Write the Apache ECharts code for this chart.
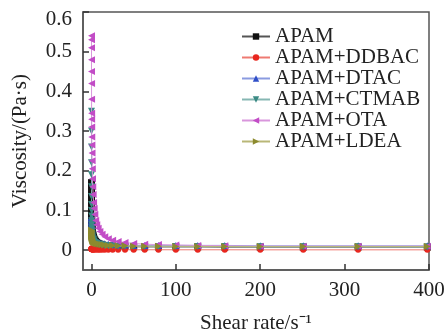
<!DOCTYPE html>
<html>
<head>
<meta charset="utf-8">
<script src="https://cdn.jsdelivr.net/npm/echarts@6/dist/echarts.min.js"></script>
<style>
  html, body { margin: 0; padding: 0; background: #fff; }
  #main { width: 446px; height: 330px; }
</style>
</head>
<body>
<div id="main"></div>
<script>
// shear rate, s^-1 (log ramp)
const shearRate = [0.04, 0.05, 0.063, 0.079, 0.1, 0.126, 0.158, 0.2, 0.251, 0.316, 0.398, 0.501, 0.631, 0.794,
    1, 1.26, 1.58, 2, 2.51, 3.16, 3.98, 5.01, 6.31, 7.94,
    10, 12.6, 15.8, 20, 25.1, 31.6, 39.8, 50.1, 63.1, 79.4,
    100, 126, 158, 200, 251, 316, 398];

const seriesNames = ['APAM', 'APAM+DDBAC', 'APAM+DTAC', 'APAM+CTMAB', 'APAM+OTA', 'APAM+LDEA'];

// viscosity, Pa·s
const apam = [0.17, 0.16, 0.15, 0.14, 0.13, 0.12, 0.11, 0.1, 0.092, 0.084,
    0.076, 0.069, 0.062, 0.056, 0.05, 0.045, 0.04, 0.036, 0.032, 0.028,
    0.025, 0.022, 0.019, 0.017, 0.015, 0.013, 0.012, 0.011, 0.01, 0.009,
    0.009, 0.0085, 0.008, 0.008, 0.008, 0.008, 0.0075, 0.0075, 0.0075, 0.0075, 0.0075];
const ddbac = [0.004, 0.004, 0.0035, 0.0035, 0.003, 0.003, 0.003, 0.0025, 0.0025, 0.0025,
    0.002, 0.002, 0.002, 0.002, 0.002, 0.0018, 0.0018, 0.0016, 0.0016, 0.0015,
    0.0015, 0.0014, 0.0014, 0.0013, 0.0013, 0.0012, 0.0012, 0.0011, 0.0011, 0.001,
    0.001, 0.001, 0.001, 0.001, 0.0009, 0.0009, 0.0009, 0.0008, 0.0008, 0.0008, 0.0008];
const dtac = [0.085, 0.082, 0.079, 0.076, 0.073, 0.07, 0.066, 0.062, 0.058, 0.055,
    0.052, 0.049, 0.046, 0.043, 0.04, 0.037, 0.034, 0.031, 0.029, 0.027,
    0.025, 0.023, 0.021, 0.019, 0.018, 0.017, 0.016, 0.015, 0.014, 0.013,
    0.013, 0.012, 0.012, 0.012, 0.012, 0.012, 0.012, 0.011, 0.011, 0.011, 0.011];
const ctmab = [0.35, 0.3, 0.26, 0.22, 0.19, 0.16, 0.135, 0.115, 0.1, 0.086,
    0.074, 0.064, 0.056, 0.049, 0.043, 0.038, 0.033, 0.029, 0.026, 0.023,
    0.02, 0.018, 0.016, 0.015, 0.014, 0.013, 0.012, 0.011, 0.011, 0.01,
    0.01, 0.01, 0.0095, 0.009, 0.009, 0.009, 0.009, 0.0085, 0.0085, 0.0085, 0.008];
const ota = [0.54, 0.53, 0.51, 0.48, 0.45, 0.42, 0.38, 0.345, 0.33, 0.31,
    0.285, 0.265, 0.245, 0.225, 0.205, 0.18, 0.16, 0.14, 0.12, 0.105,
    0.09, 0.075, 0.064, 0.055, 0.047, 0.04, 0.034, 0.029, 0.025, 0.022,
    0.019, 0.017, 0.015, 0.014, 0.013, 0.012, 0.011, 0.01, 0.01, 0.01, 0.01];
const ldea = [0.05, 0.049, 0.048, 0.047, 0.046, 0.045, 0.044, 0.042, 0.04, 0.038,
    0.036, 0.034, 0.032, 0.03, 0.028, 0.026, 0.024, 0.022, 0.021, 0.02,
    0.019, 0.018, 0.017, 0.016, 0.015, 0.014, 0.013, 0.012, 0.012, 0.011,
    0.011, 0.01, 0.01, 0.01, 0.0095, 0.0095, 0.009, 0.009, 0.009, 0.009, 0.009];

const values = [apam, ddbac, dtac, ctmab, ota, ldea];
const markerColors = ['#111111', '#e8271f', '#2f4fc8', '#3a8a84', '#c24cc6', '#8c8a2e'];
const lineColors = ['#555555', '#ee7a72', '#8a9be0', '#86b7b3', '#d996dc', '#b9b777'];
const symbols = ['rect', 'circle', 'triangle', 'triangle', 'triangle', 'triangle'];
const rotations = [0, 0, 0, 180, 90, -90];

const serif = 'Liberation Serif, Times New Roman, serif';

const chart = echarts.init(document.getElementById('main'), null, { renderer: 'canvas' });

const series = seriesNames.map((name, i) => ({
    name,
    type: 'line',
    data: shearRate.map((x, j) => [x, values[i][j]]),
    symbol: symbols[i],
    symbolRotate: rotations[i],
    symbolSize: i === 1 ? 6 : 7,
    showAllSymbol: true,
    itemStyle: { color: markerColors[i] },
    lineStyle: { color: lineColors[i], width: 1 },
    z: 2 + i
}));

chart.setOption({
    animation: false,
    textStyle: { fontFamily: serif },
    grid: {
        left: 83, right: 17, top: 12, bottom: 60,
        containLabel: false,
        outerBoundsMode: 'none',
        show: true, borderColor: '#555', borderWidth: 1.5
    },
    legend: {
        orient: 'vertical',
        left: 236,
        top: 21,
        itemWidth: 28,
        itemHeight: 8,
        itemGap: 0,
        textStyle: { fontFamily: serif, fontSize: 21, color: '#222', lineHeight: 21 },
        data: seriesNames
    },
    xAxis: {
        type: 'value',
        min: -10,
        max: 400,
        name: 'Shear rate/s⁻¹',
        nameLocation: 'middle',
        nameGap: 43,
        nameTextStyle: { fontFamily: serif, fontSize: 21, color: '#222' },
        axisLine: { show: true, onZero: false, lineStyle: { color: '#555', width: 1.5 } },
        axisTick: { show: true, inside: true, length: 6, lineStyle: { color: '#333', width: 1.5 } },
        axisLabel: { fontFamily: serif, fontSize: 21, color: '#222', margin: 10, showMinLabel: false },
        splitLine: { show: false }
    },
    yAxis: {
        type: 'value',
        min: -0.05,
        max: 0.6,
        name: 'Viscosity/(Pa·s)',
        nameLocation: 'middle',
        nameGap: 52,
        nameTextStyle: { fontFamily: serif, fontSize: 21, color: '#222' },
        axisLine: { show: true, onZero: false, lineStyle: { color: '#555', width: 1.5 } },
        axisTick: { show: true, inside: true, length: 6, lineStyle: { color: '#333', width: 1.5 } },
        axisLabel: {
            fontFamily: serif, fontSize: 21, color: '#222', margin: 11, showMinLabel: false,
            formatter: v => {
                if (Math.abs(v) < 1e-9) return '0';
                // top label sits a little below the frame corner, as in the figure
                if (v > 0.59) return '{top|' + v.toFixed(1) + '}';
                return v.toFixed(1);
            },
            rich: { top: { fontFamily: serif, fontSize: 21, color: '#222', padding: [15, 0, 0, 0] } }
        },
        splitLine: { show: false }
    },
    series
});
</script>
</body>
</html>
